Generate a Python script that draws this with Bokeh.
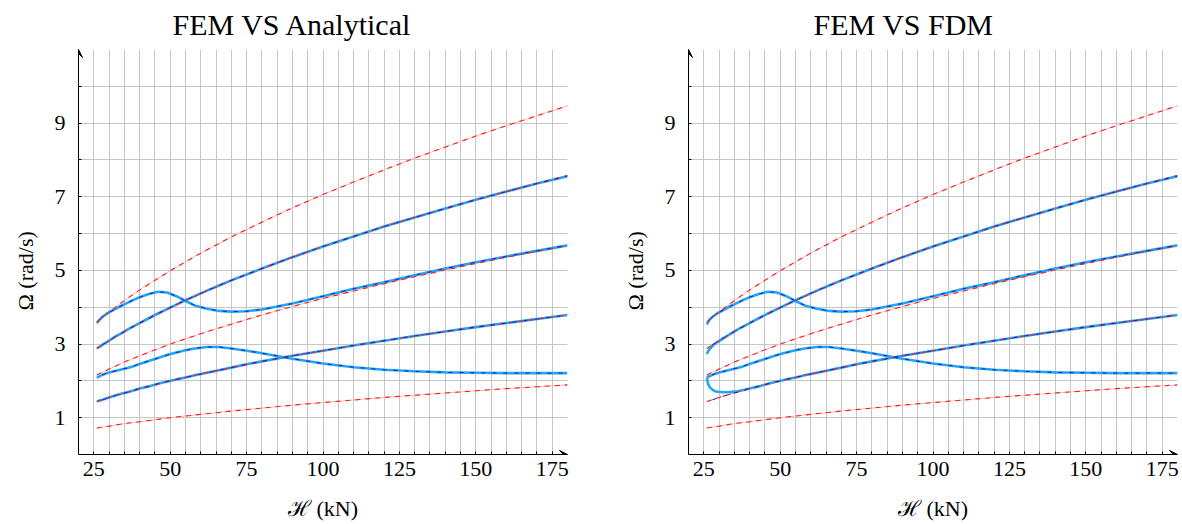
from bokeh.plotting import figure
from bokeh.layouts import row
from bokeh.models import FixedTicker, Arrow, VeeHead, Title, Range1d
from bokeh.embed import file_html
from bokeh.resources import INLINE

FONT = "Liberation Serif"

# ---------------- data ----------------
# analytical (red dashed) curves
H_ana = [26, 30, 35, 40, 50, 60, 70, 80, 90, 100, 110, 120, 130, 140, 150, 160, 170, 180]
ana_1 = [0.72, 0.77, 0.84, 0.89, 1.00, 1.09, 1.18, 1.26, 1.34, 1.41, 1.48, 1.55, 1.61, 1.67, 1.73, 1.79, 1.84, 1.89]
ana_2 = [1.44, 1.55, 1.67, 1.79, 2.00, 2.19, 2.36, 2.53, 2.68, 2.82, 2.96, 3.09, 3.22, 3.34, 3.46, 3.57, 3.68, 3.79]
ana_3 = [2.16, 2.32, 2.51, 2.68, 3.00, 3.28, 3.54, 3.79, 4.02, 4.24, 4.44, 4.64, 4.83, 5.01, 5.19, 5.36, 5.52, 5.68]
ana_4 = [2.88, 3.09, 3.34, 3.57, 3.99, 4.37, 4.73, 5.05, 5.36, 5.65, 5.92, 6.19, 6.44, 6.68, 6.92, 7.14, 7.36, 7.58]
ana_5 = [3.60, 3.87, 4.18, 4.47, 4.99, 5.47, 5.91, 6.31, 6.70, 7.06, 7.40, 7.73, 8.05, 8.35, 8.65, 8.93, 9.20, 9.47]

# FEM curves (blue dashed, both panels; cyan in left panel)
H_fem = [26, 27, 28, 29, 30, 32, 34, 36, 38, 40, 43, 46, 49, 52, 55, 58, 62, 66, 70, 75,
         80, 90, 100, 110, 120, 130, 140, 150, 160, 170, 180]
fem_anti1 = [1.44, 1.47, 1.49, 1.52, 1.55, 1.60, 1.65, 1.69, 1.74, 1.79, 1.85, 1.92, 1.98, 2.04, 2.09, 2.15,
             2.22, 2.29, 2.36, 2.45, 2.53, 2.68, 2.82, 2.96, 3.09, 3.22, 3.34, 3.46, 3.57, 3.68, 3.79]
fem_sym1 = [2.08, 2.13, 2.17, 2.20, 2.23, 2.27, 2.31, 2.35, 2.40, 2.46, 2.54, 2.62, 2.70, 2.77, 2.83, 2.88,
            2.92, 2.92, 2.88, 2.82, 2.75, 2.60, 2.47, 2.37, 2.30, 2.26, 2.23, 2.22, 2.21, 2.21, 2.21]
fem_anti2 = [2.88, 2.93, 2.99, 3.04, 3.09, 3.20, 3.29, 3.39, 3.48, 3.57, 3.70, 3.83, 3.95, 4.07, 4.19, 4.30,
             4.45, 4.59, 4.73, 4.89, 5.05, 5.36, 5.65, 5.92, 6.19, 6.44, 6.68, 6.92, 7.14, 7.36, 7.56]
fem_sym2 = [3.57, 3.67, 3.75, 3.81, 3.86, 3.95, 4.04, 4.12, 4.20, 4.27, 4.36, 4.42, 4.40, 4.30, 4.17, 4.05,
            3.96, 3.90, 3.88, 3.89, 3.94, 4.10, 4.30, 4.50, 4.68, 4.87, 5.05, 5.22, 5.38, 5.53, 5.68]

# FDM curves (cyan, right panel)
H_fdm = [26, 26.4, 27, 28, 29, 30, 32, 34, 36, 38, 40, 43, 46, 49, 52, 55, 58, 62, 66, 70, 75,
         80, 90, 100, 110, 120, 130, 140, 150, 160, 170, 180]
fdm_anti1 = [2.08, 1.92, 1.82, 1.75, 1.71, 1.70, 1.69, 1.70, 1.72, 1.75, 1.79, 1.85, 1.92, 1.98, 2.04, 2.09,
             2.15, 2.22, 2.29, 2.36, 2.45, 2.53, 2.68, 2.82, 2.96, 3.09, 3.22, 3.34, 3.46, 3.57, 3.68, 3.79]
fdm_sym1 = [2.08, 2.11, 2.13, 2.17, 2.20, 2.23, 2.27, 2.31, 2.35, 2.40, 2.46, 2.54, 2.62, 2.70, 2.77, 2.83,
            2.88, 2.92, 2.92, 2.88, 2.82, 2.75, 2.60, 2.47, 2.37, 2.30, 2.26, 2.23, 2.22, 2.21, 2.21, 2.21]
fdm_anti2 = [2.73, 2.80, 2.87, 2.96, 3.03, 3.08, 3.19, 3.29, 3.39, 3.48, 3.57, 3.70, 3.83, 3.95, 4.07, 4.19,
             4.30, 4.45, 4.59, 4.73, 4.89, 5.05, 5.36, 5.65, 5.92, 6.19, 6.44, 6.68, 6.92, 7.14, 7.36, 7.56]
fdm_sym2 = [3.53, 3.60, 3.67, 3.75, 3.81, 3.86, 3.95, 4.04, 4.12, 4.20, 4.27, 4.36, 4.42, 4.40, 4.30, 4.17,
            4.05, 3.96, 3.90, 3.88, 3.89, 3.94, 4.10, 4.30, 4.50, 4.68, 4.87, 5.05, 5.22, 5.38, 5.53, 5.68]

x_ticks = [25, 50, 75, 100, 125, 150, 175]
y_ticks = [1, 3, 5, 7, 9]
x_grid = list(range(25, 180, 5))
y_grid = list(range(1, 11))
titles = ["FEM VS Analytical", "FEM VS FDM"]
x_label = "\u210b (kN)"
y_label = "\u03a9 (rad/s)"

RED = "#ff1a1a"
PINK = "#ffb8b8"
CYAN = "#22a6ec"
BLUE = "#1818e0"


def make_fig(title_text, H_cyan, cyan_sets, width, mbr, title_off):
    p = figure(width=width, height=524, x_range=Range1d(20, 180), y_range=Range1d(0, 11),
               output_backend="svg", toolbar_location=None, title=None,
               min_border_left=77, min_border_right=mbr, min_border_top=48, min_border_bottom=70)
    p.outline_line_color = None
    p.background_fill_color = "white"
    p.border_fill_color = "white"

    for ax, tk, mn in ((p.xaxis, x_ticks, [t for t in x_grid if t not in x_ticks]),
                       (p.yaxis, y_ticks, [t for t in y_grid if t not in y_ticks])):
        ax.ticker = FixedTicker(ticks=tk, minor_ticks=mn)
        ax.axis_line_color = "black"
        ax.axis_line_width = 1
        ax.major_tick_line_color = "black"
        ax.minor_tick_line_color = "black"
        ax.major_tick_in = 3
        ax.major_tick_out = 0
        ax.minor_tick_in = 3
        ax.minor_tick_out = 0
        ax.major_label_text_font = FONT
        ax.major_label_text_font_size = "22px"
        ax.major_label_text_color = "black"
    p.xaxis.major_label_standoff = 7
    p.yaxis.major_label_standoff = 13
    p.xaxis.axis_label = x_label
    p.xaxis.axis_label_text_font = FONT
    p.xaxis.axis_label_text_font_size = "22px"
    p.xaxis.axis_label_text_font_style = "normal"
    p.xaxis.axis_label_text_color = "black"
    p.xaxis.axis_label_standoff = 17

    p.xgrid.ticker = FixedTicker(ticks=x_grid)
    p.ygrid.ticker = FixedTicker(ticks=y_grid)
    for g in (p.xgrid, p.ygrid):
        g.grid_line_color = "#c6c6c6"
        g.grid_line_width = 1

    for ys in (ana_1, ana_2, ana_3, ana_4, ana_5):
        p.line(H_ana, ys, line_color=PINK, line_width=1)
    for ys in cyan_sets:
        p.line(H_cyan, ys, line_color=CYAN, line_width=2.6)
    for ys in (ana_1, ana_2, ana_3, ana_4, ana_5):
        p.line(H_ana, ys, line_color=RED, line_width=1.1, line_dash="5 5")
    for ys in (fem_anti1, fem_sym1, fem_anti2, fem_sym2):
        p.line(H_fem, ys, line_color=BLUE, line_width=1.0, line_dash="4 7", line_dash_offset=5)

    p.add_layout(Arrow(end=VeeHead(size=8, line_color="black", line_width=1),
                       x_start=20, y_start=10.5, x_end=20, y_end=11, line_color="black", line_width=1))
    p.add_layout(Arrow(end=VeeHead(size=8, line_color="black", line_width=1),
                       x_start=175, y_start=0, x_end=180, y_end=0, line_color="black", line_width=1))

    p.add_layout(Title(text=y_label, align="left", offset=144, text_font=FONT,
                       text_font_size="22px", text_font_style="normal", text_color="black",
                       standoff=24, vertical_align="top"), "left")
    p.add_layout(Title(text=title_text, align="left", offset=title_off, text_font=FONT,
                       text_font_size="30px", text_font_style="normal", text_color="black",
                       standoff=14, vertical_align="top"), "above")
    return p


p1 = make_fig(titles[0], H_fem, (fem_anti1, fem_sym1, fem_anti2, fem_sym2), 610, 43, 94)
p2 = make_fig(titles[1], H_fdm, (fdm_anti1, fdm_sym1, fdm_anti2, fdm_sym2), 572, 5, 125)
p = row(p1, p2)

open("out.html", "w").write(file_html(p, INLINE))
